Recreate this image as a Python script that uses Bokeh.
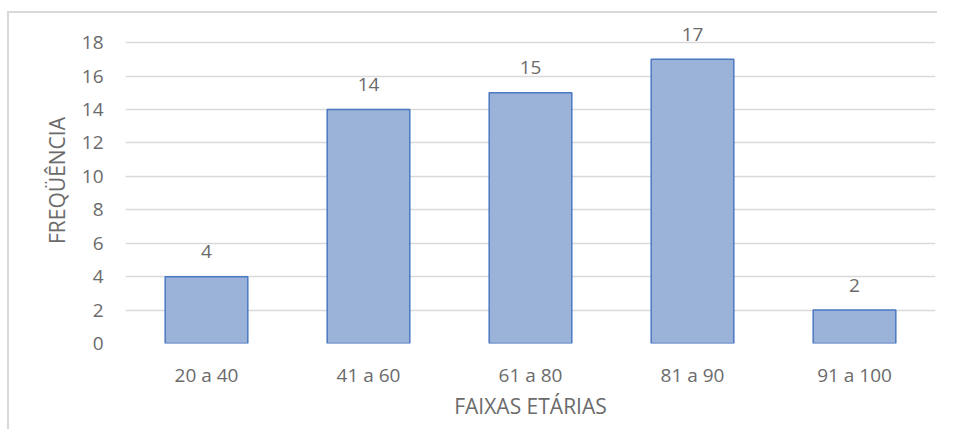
from bokeh.plotting import figure
from bokeh.models import ColumnDataSource, LabelSet, FactorRange, Range1d, FixedTicker
from bokeh.core.properties import value
from bokeh.embed import file_html
from bokeh.resources import INLINE

categories = ["20 a 40", "41 a 60", "61 a 80", "81 a 90", "91 a 100"]
frequencia = [4, 14, 15, 17, 2]
y_ticks = [0, 2, 4, 6, 8, 10, 12, 14, 16, 18]

FONT = "Open Sans"
TXT = "#6b6b6b"

source = ColumnDataSource(dict(cat=categories, val=frequencia, lbl=[str(v) for v in frequencia]))

p = figure(
    x_range=FactorRange(*categories, range_padding=0),
    y_range=Range1d(0, 19.5),
    width=930, height=418,
    output_backend="svg", toolbar_location=None,
    min_border_left=116, min_border_right=4, min_border_top=4, min_border_bottom=88,
    styles={"border-left": "2px solid #d9d9d9", "border-top": "2px solid #d9d9d9",
            "margin-left": "7px", "margin-top": "11px"},
)
p.outline_line_color = None
p.background_fill_color = "white"
p.border_fill_color = "white"

p.vbar(x="cat", top="val", width=0.51, source=source,
       fill_color="#9bb2d9", line_color="#4a78c2", line_width=1.5)

p.add_layout(LabelSet(x="cat", y="val", text="lbl", source=source,
                      text_align="center", text_baseline="middle", y_offset=25,
                      text_font=value(FONT), text_font_size="19px", text_color=TXT))

p.xgrid.grid_line_color = None
p.ygrid.grid_line_color = "#d9d9d9"
p.ygrid.grid_line_width = 1.5
p.yaxis.ticker = FixedTicker(ticks=y_ticks)

for ax in (p.xaxis[0], p.yaxis[0]):
    ax.axis_line_color = None
    ax.major_tick_line_color = None
    ax.minor_tick_line_color = None
    ax.major_tick_out = 0
    ax.major_tick_in = 0
    ax.major_label_text_font = FONT
    ax.major_label_text_font_size = "19px"
    ax.major_label_text_color = TXT
    ax.axis_label_text_font = FONT
    ax.axis_label_text_font_size = "21px"
    ax.axis_label_text_color = TXT
    ax.axis_label_text_font_style = "normal"

p.xaxis.major_label_standoff = 18
p.xaxis.axis_label = "FAIXAS ETÁRIAS"
p.xaxis.axis_label_standoff = 1
p.yaxis.major_label_standoff = 22
p.yaxis.axis_label = "FREQÜÊNCIA"
p.yaxis.axis_label_standoff = 8

open("out.html", "w").write(file_html(p, INLINE))
